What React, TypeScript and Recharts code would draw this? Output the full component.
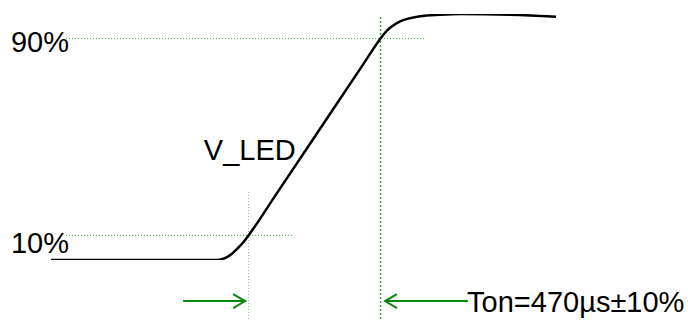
import React from "react";
import { LineChart, Line, XAxis, YAxis, ReferenceLine, ReferenceDot } from "recharts";

// time in µs (0 = 10% crossing), voltage in % of final level
const TIME_US = [-703, -351, -160, -118, -100, -80, -60, -40, -20, 0, 100, 200, 300, 400, 470, 486, 504, 540, 575, 611, 682, 757, 935, 1095];
const V_LED_PCT = [0, 0, 0, 0, 0.23, 1.0, 2.4, 4.6, 7.0, 10, 27.0, 44.0, 61.1, 78.1, 90, 92.4, 94.4, 97.0, 98.3, 99.1, 99.7, 100, 99.7, 98.9];

const LEVELS = [10, 90];
const LEVEL_LABELS = ["10%", "90%"];
const T_ON_START = 0;
const T_ON_END = 470;
const CURVE_LABEL = "V_LED";
const TON_LABEL = "Ton=470µs±10%";

const data = TIME_US.map((t, i) => ({ t, v: V_LED_PCT[i] }));

const FONT = "'Liberation Sans', Arial, sans-serif";
const GRID_GREEN = "#3cb43c";
const ARROW_GREEN = "#0a880a";

const arrowShape = (headAt: "start" | "end") => (p: any) => {
  const { x1, y1, x2, y2 } = p;
  const hx = headAt === "end" ? Math.max(x1, x2) : Math.min(x1, x2);
  const dir = headAt === "end" ? -1 : 1;
  return (
    <g>
      <line x1={x1} y1={y1} x2={x2} y2={y2} stroke={ARROW_GREEN} strokeWidth={2} />
      <path
        d={`M${hx + dir * 12},${y1 - 7} L${hx},${y1} L${hx + dir * 12},${y1 + 7}`}
        fill="none"
        stroke={ARROW_GREEN}
        strokeWidth={2}
      />
    </g>
  );
};

const textShape = (label: string, dx: number, dy: number, anchor: "start" | "end") => (p: any) => (
  <text
    x={p.cx + dx}
    y={p.cy + dy}
    textAnchor={anchor}
    fontFamily={FONT}
    fontSize={29}
    fill="#000"
  >
    {label}
  </text>
);

export default function App() {
  return (
    <div style={{ position: "absolute", left: 0, top: 0, width: 688, height: 320, background: "#fff" }}>
      <LineChart width={688} height={320} data={data} margin={{ top: 14, right: 0, bottom: 60, left: 0 }}>
        <XAxis type="number" dataKey="t" domain={[-885, 1565]} hide allowDataOverflow />
        <YAxis type="number" domain={[0, 100]} hide allowDataOverflow />

        {/* 90% level line */}
        <ReferenceLine
          segment={[{ x: -650, y: LEVELS[1] }, { x: 625, y: LEVELS[1] }]}
          stroke={GRID_GREEN}
          strokeWidth={1}
          strokeDasharray="1 2"
          ifOverflow="visible"
        />
        {/* 10% level line */}
        <ReferenceLine
          segment={[{ x: -650, y: LEVELS[0] }, { x: 158, y: LEVELS[0] }]}
          stroke={GRID_GREEN}
          strokeWidth={1}
          strokeDasharray="1 2"
          ifOverflow="visible"
        />
        {/* start marker */}
        <ReferenceLine
          segment={[{ x: T_ON_START, y: 27.6 }, { x: T_ON_START, y: -24.4 }]}
          stroke={GRID_GREEN}
          strokeOpacity={0.7}
          strokeWidth={1}
          strokeDasharray="1 2"
          ifOverflow="visible"
        />
        {/* end marker */}
        <ReferenceLine
          segment={[{ x: T_ON_END, y: 98.8 }, { x: T_ON_END, y: -24.4 }]}
          stroke={GRID_GREEN}
          strokeWidth={1.6}
          strokeDasharray="2 2"
          ifOverflow="visible"
        />

        <Line
          type="monotone"
          dataKey="v"
          stroke="#000"
          strokeWidth={2.5}
          dot={false}
          isAnimationActive={false}
        />

        {/* arrows */}
        <ReferenceLine
          segment={[{ x: -233, y: -16.7 }, { x: -12, y: -16.7 }]}
          ifOverflow="visible"
          shape={arrowShape("end")}
        />
        <ReferenceLine
          segment={[{ x: 486, y: -16.7 }, { x: 782, y: -16.7 }]}
          ifOverflow="visible"
          shape={arrowShape("start")}
        />

        {/* texts */}
        <ReferenceDot x={-650} y={LEVELS[1]} r={0} ifOverflow="visible" shape={textShape(LEVEL_LABELS[1], 3, 13.6, "end")} />
        <ReferenceDot x={-650} y={LEVELS[0]} r={0} ifOverflow="visible" shape={textShape(LEVEL_LABELS[0], 3, 17.6, "end")} />
        <ReferenceDot x={164.5} y={38} r={0} ifOverflow="visible" shape={textShape(CURVE_LABEL, 1, -6.5, "end")} />
        <ReferenceDot x={782} y={-16.7} r={0} ifOverflow="visible" shape={textShape(TON_LABEL, -1, 11, "start")} />
      </LineChart>
    </div>
  );
}
